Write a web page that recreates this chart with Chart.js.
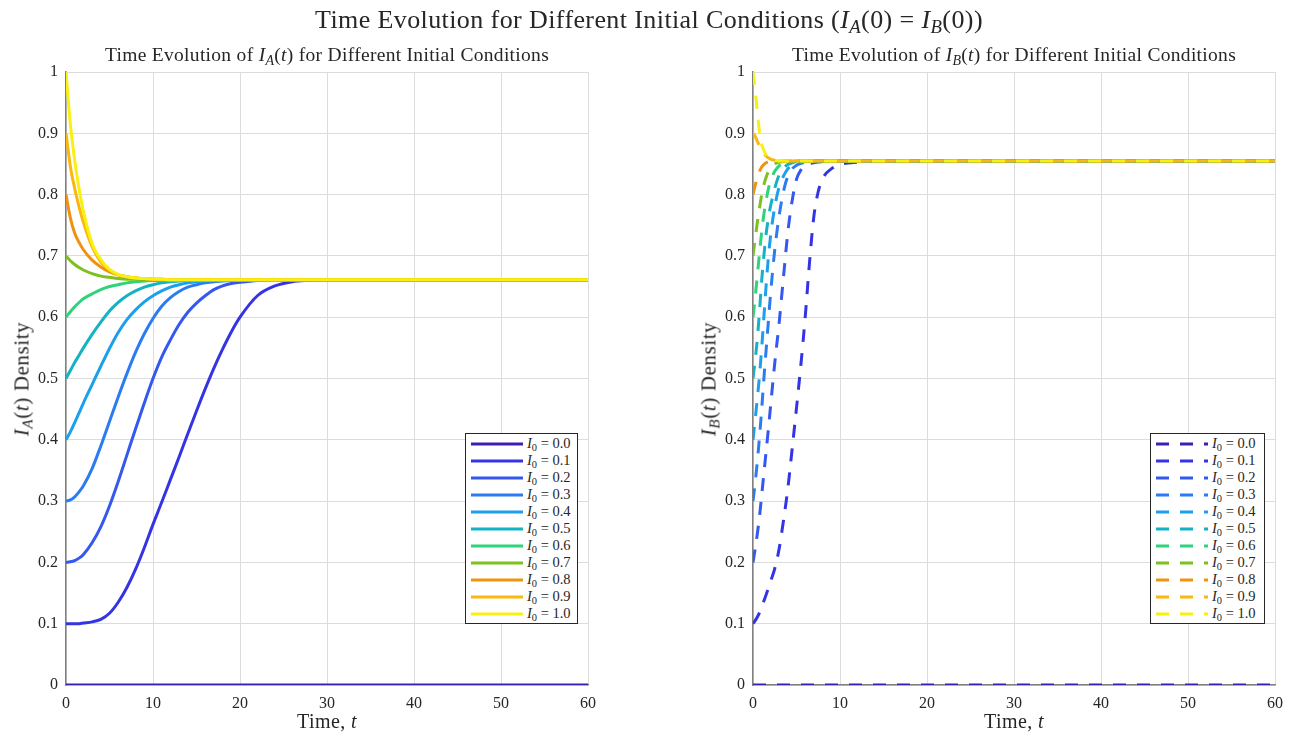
<!DOCTYPE html>
<html><head><meta charset="utf-8">
<script src="https://cdn.jsdelivr.net/npm/chart.js@4.4.1/dist/chart.umd.min.js"></script>
<style>
body{margin:0;background:#fff;}
#wrap{position:relative;width:1293px;height:734px;overflow:hidden;font-family:"Liberation Serif","DejaVu Serif",serif;color:#262626;background:#fff;}
canvas{position:absolute;top:0;}
.txt{position:absolute;white-space:nowrap;transform:translate(-50%,-50%);line-height:1;}
.ylab{transform:translate(-50%,-50%) rotate(-90deg);}
sub{font-size:0.72em;vertical-align:-0.28em;line-height:0;}
.legend{position:absolute;border:1px solid #262626;background:#fff;padding:1px 3px 1px 5px;box-sizing:border-box;}
.row{display:flex;align-items:center;height:17px;font-size:14.5px;white-space:nowrap;}
.row svg{flex:none;margin-right:4px;}
</style></head>
<body>
<div id="wrap">
  <canvas id="cA" width="646" height="734" style="left:0"></canvas>
  <canvas id="cB" width="647" height="734" style="left:646px"></canvas>
  <div class="txt" style="left:649px;top:20px;font-size:26px;letter-spacing:0.4px;">Time Evolution for Different Initial Conditions (<i>I</i><sub><i>A</i></sub>(0) = <i>I</i><sub><i>B</i></sub>(0))</div>
  <div class="txt" style="left:327px;top:55px;font-size:19.5px;letter-spacing:0.3px;">Time Evolution of <i>I</i><sub><i>A</i></sub>(<i>t</i>) for Different Initial Conditions</div>
  <div class="txt" style="left:1014px;top:55px;font-size:19.5px;letter-spacing:0.3px;">Time Evolution of <i>I</i><sub><i>B</i></sub>(<i>t</i>) for Different Initial Conditions</div>
  <div class="txt" style="left:327px;top:721px;font-size:20px;letter-spacing:0.4px;">Time, <i>t</i></div>
  <div class="txt" style="left:1014px;top:721px;font-size:20px;letter-spacing:0.4px;">Time, <i>t</i></div>
  <div class="txt ylab" style="left:22px;top:379px;font-size:21px;letter-spacing:0.6px;"><i>I</i><sub><i>A</i></sub>(<i>t</i>) Density</div>
  <div class="txt ylab" style="left:709px;top:379px;font-size:21px;letter-spacing:0.6px;"><i>I</i><sub><i>B</i></sub>(<i>t</i>) Density</div>
  <div id="legA" class="legend"></div>
  <div id="legB" class="legend"></div>
</div>
<script>
// ---- data ----
const initLabels = ['0.0','0.1','0.2','0.3','0.4','0.5','0.6','0.7','0.8','0.9','1.0'];
const xTicks = [0,10,20,30,40,50,60];
const yTicks = [0,0.1,0.2,0.3,0.4,0.5,0.6,0.7,0.8,0.9,1];

const tA = [0,0.5,1,1.5,2,3,4,5,6,7,8,9,10,11,12,13,14,15,16,17,18,19,20,22,24,26,28,30,35,40,50,60];
const iA00 = [0,0,0,0,0,0,0,0,0,0,0,0,0,0,0,0,0,0,0,0,0,0,0,0,0,0,0,0,0,0,0,0];
const iA01 = [0.1,0.1,0.1,0.1,0.101,0.103,0.107,0.117,0.135,0.159,0.189,0.224,0.262,0.298,0.335,0.372,0.41,0.447,0.483,0.517,0.548,0.576,0.6,0.635,0.651,0.658,0.66,0.661,0.661,0.661,0.661,0.661];
const iA02 = [0.2,0.201,0.203,0.207,0.213,0.232,0.258,0.292,0.332,0.375,0.418,0.46,0.5,0.535,0.563,0.588,0.608,0.623,0.635,0.645,0.651,0.655,0.657,0.66,0.661,0.661,0.661,0.661,0.661,0.661,0.661,0.661];
const iA03 = [0.3,0.302,0.307,0.315,0.325,0.353,0.39,0.43,0.47,0.508,0.543,0.573,0.598,0.618,0.632,0.642,0.649,0.653,0.656,0.658,0.659,0.66,0.66,0.661,0.661,0.661,0.661,0.661,0.661,0.661,0.661,0.661];
const iA04 = [0.4,0.413,0.428,0.444,0.46,0.49,0.52,0.549,0.575,0.596,0.612,0.625,0.635,0.643,0.649,0.653,0.656,0.658,0.659,0.66,0.66,0.66,0.661,0.661,0.661,0.661,0.661,0.661,0.661,0.661,0.661,0.661];
const iA05 = [0.5,0.513,0.526,0.538,0.55,0.572,0.592,0.61,0.624,0.635,0.643,0.649,0.653,0.656,0.658,0.659,0.66,0.66,0.66,0.66,0.661,0.661,0.661,0.661,0.661,0.661,0.661,0.661,0.661,0.661,0.661,0.661];
const iA06 = [0.6,0.609,0.617,0.624,0.63,0.638,0.645,0.65,0.653,0.656,0.658,0.659,0.66,0.66,0.66,0.661,0.661,0.661,0.661,0.661,0.661,0.661,0.661,0.661,0.661,0.661,0.661,0.661,0.661,0.661,0.661,0.661];
const iA07 = [0.7,0.692,0.686,0.681,0.677,0.671,0.667,0.665,0.663,0.662,0.662,0.661,0.661,0.661,0.661,0.661,0.661,0.661,0.661,0.661,0.661,0.661,0.661,0.661,0.661,0.661,0.661,0.661,0.661,0.661,0.661,0.661];
const iA08 = [0.8,0.762,0.737,0.722,0.71,0.693,0.682,0.674,0.669,0.666,0.664,0.663,0.662,0.662,0.661,0.661,0.661,0.661,0.661,0.661,0.661,0.661,0.661,0.661,0.661,0.661,0.661,0.661,0.661,0.661,0.661,0.661];
const iA09 = [0.9,0.846,0.81,0.78,0.755,0.715,0.69,0.677,0.669,0.666,0.664,0.663,0.662,0.662,0.661,0.661,0.661,0.661,0.661,0.661,0.661,0.661,0.661,0.661,0.661,0.661,0.661,0.661,0.661,0.661,0.661,0.661];
const iA10 = [1.0,0.915,0.856,0.81,0.773,0.72,0.694,0.678,0.67,0.666,0.664,0.663,0.662,0.662,0.661,0.661,0.661,0.661,0.661,0.661,0.661,0.661,0.661,0.661,0.661,0.661,0.661,0.661,0.661,0.661,0.661,0.661];

const tB = [0,0.25,0.5,0.75,1,1.25,1.5,1.75,2,2.5,3,3.5,4,4.5,5,5.5,6,6.5,7,7.5,8,9,10,12,15,20,30,40,50,60];
const iB00 = [0,0,0,0,0,0,0,0,0,0,0,0,0,0,0,0,0,0,0,0,0,0,0,0,0,0,0,0,0,0];
const iB01 = [0.1,0.105,0.111,0.118,0.127,0.137,0.147,0.157,0.168,0.19,0.222,0.268,0.32,0.385,0.452,0.522,0.6,0.69,0.765,0.805,0.826,0.842,0.849,0.853,0.855,0.855,0.855,0.855,0.855,0.855];
const iB02 = [0.2,0.222,0.247,0.275,0.31,0.345,0.38,0.415,0.452,0.525,0.59,0.665,0.738,0.79,0.825,0.84,0.847,0.85,0.852,0.853,0.854,0.855,0.855,0.855,0.855,0.855,0.855,0.855,0.855,0.855];
const iB03 = [0.3,0.33,0.365,0.405,0.45,0.5,0.545,0.59,0.635,0.71,0.765,0.805,0.83,0.842,0.848,0.851,0.853,0.854,0.855,0.855,0.855,0.855,0.855,0.855,0.855,0.855,0.855,0.855,0.855,0.855];
const iB04 = [0.4,0.433,0.468,0.505,0.55,0.6,0.65,0.695,0.73,0.78,0.812,0.83,0.842,0.848,0.851,0.853,0.854,0.855,0.855,0.855,0.855,0.855,0.855,0.855,0.855,0.855,0.855,0.855,0.855,0.855];
const iB05 = [0.5,0.53,0.565,0.61,0.66,0.7,0.735,0.76,0.78,0.81,0.832,0.843,0.849,0.852,0.854,0.855,0.855,0.855,0.855,0.855,0.855,0.855,0.855,0.855,0.855,0.855,0.855,0.855,0.855,0.855];
const iB06 = [0.6,0.632,0.668,0.705,0.74,0.768,0.79,0.808,0.822,0.838,0.847,0.851,0.853,0.854,0.855,0.855,0.855,0.855,0.855,0.855,0.855,0.855,0.855,0.855,0.855,0.855,0.855,0.855,0.855,0.855];
const iB07 = [0.7,0.728,0.755,0.778,0.8,0.816,0.828,0.837,0.843,0.85,0.853,0.854,0.855,0.855,0.855,0.855,0.855,0.855,0.855,0.855,0.855,0.855,0.855,0.855,0.855,0.855,0.855,0.855,0.855,0.855];
const iB08 = [0.8,0.815,0.828,0.838,0.845,0.849,0.852,0.853,0.854,0.855,0.855,0.855,0.855,0.855,0.855,0.855,0.855,0.855,0.855,0.855,0.855,0.855,0.855,0.855,0.855,0.855,0.855,0.855,0.855,0.855];
const iB09 = [0.9,0.895,0.887,0.879,0.872,0.867,0.863,0.86,0.858,0.856,0.855,0.855,0.855,0.855,0.855,0.855,0.855,0.855,0.855,0.855,0.855,0.855,0.855,0.855,0.855,0.855,0.855,0.855,0.855,0.855];
const iB10 = [1.0,0.97,0.935,0.902,0.882,0.872,0.865,0.861,0.858,0.856,0.855,0.855,0.855,0.855,0.855,0.855,0.855,0.855,0.855,0.855,0.855,0.855,0.855,0.855,0.855,0.855,0.855,0.855,0.855,0.855];

// ---- styles ----
const colors = ['#3c1fb0','#3434e4','#3458f0','#2b7cf2','#1ca0ec','#13b2c4','#2ed47c','#7dc11f','#f0920e','#fbb70d','#f8f010'];
const seriesA = [iA00,iA01,iA02,iA03,iA04,iA05,iA06,iA07,iA08,iA09,iA10];
const seriesB = [iB00,iB01,iB02,iB03,iB04,iB05,iB06,iB07,iB08,iB09,iB10];
const DASH = [13,11];
const FONT = '"Liberation Serif","DejaVu Serif",serif';

function makeDatasets(times, series, dashed){
  return series.map((vals,i)=>({
    label: 'I0 = ' + initLabels[i],
    data: vals.map((v,k)=>({x: times[k], y: v})),
    borderColor: colors[i],
    backgroundColor: colors[i],
    borderWidth: 3,
    borderDash: dashed ? DASH : [],
    pointRadius: 0,
    fill: false,
    cubicInterpolationMode: 'monotone',
    order: series.length - 1 - i
  }));
}

function makeOptions(padL, padR){
  return {
    responsive: false,
    animation: false,
    layout: {padding: {left: padL, right: padR, top: 72, bottom: 19}},
    plugins: {legend: {display: false}, tooltip: {enabled: false}, title: {display: false}},
    scales: {
      x: {
        type: 'linear', min: 0, max: 60,
        afterBuildTicks: s => { s.ticks = xTicks.map(v => ({value: v})); },
        afterFit: s => { s.height = 30; },
        ticks: {font: {family: FONT, size: 16}, color: '#262626', padding: 9, maxRotation: 0},
        grid: {color: '#dcdcdc', lineWidth: 1, drawTicks: false},
        border: {display: true, color: '#808080', width: 1.5}
      },
      y: {
        type: 'linear', min: 0, max: 1,
        afterBuildTicks: s => { s.ticks = yTicks.map(v => ({value: v})); },
        afterFit: s => { s.width = 50; },
        ticks: {font: {family: FONT, size: 16}, color: '#262626', padding: 8,
          callback: v => (v === 0 ? '0' : v === 1 ? '1' : v.toFixed(1))},
        grid: {color: '#dcdcdc', lineWidth: 1, drawTicks: false},
        border: {display: true, color: '#808080', width: 1.5}
      }
    }
  };
}

const chartA = new Chart(document.getElementById('cA'), {
  type: 'line',
  data: {datasets: makeDatasets(tA, seriesA, false)},
  options: makeOptions(16, 58)
});
const chartB = new Chart(document.getElementById('cB'), {
  type: 'line',
  data: {datasets: makeDatasets(tB, seriesB, true)},
  options: makeOptions(57, 18)
});

function buildLegend(el, chart, offsetX, dashed, width){
  let html = '';
  initLabels.forEach((lab,i)=>{
    const dash = dashed ? ' stroke-dasharray="' + DASH.join(' ') + '"' : '';
    html += '<div class="row"><svg width="52" height="6"><line x1="0" y1="3" x2="52" y2="3" stroke="' + colors[i] + '" stroke-width="3"' + dash + '/></svg>' +
            '<span><i>I</i><sub>0</sub> = ' + lab + '</span></div>';
  });
  el.innerHTML = html;
  const ca = chart.chartArea;
  el.style.width = width + 'px';
  el.style.left = (offsetX + ca.right - 10 - width) + 'px';
  el.style.top = (ca.bottom - 61 - el.offsetHeight) + 'px';
}
buildLegend(document.getElementById('legA'), chartA, 0, false, 113);
buildLegend(document.getElementById('legB'), chartB, 646, true, 115);
</script>
</body></html>
